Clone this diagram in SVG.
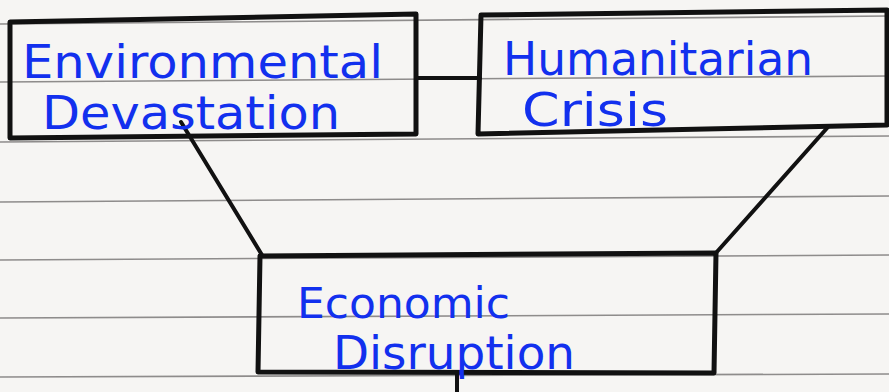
<svg xmlns="http://www.w3.org/2000/svg" width="889" height="392" viewBox="0 0 889 392">
<style>
.rule{stroke:#6b6868;stroke-width:1.6;fill:none;opacity:0.75}
.box{fill:none;stroke:#111;stroke-width:5;stroke-linejoin:round}
.conn{stroke:#111;stroke-width:4;fill:none;stroke-linecap:round}
.lbl{font-family:"DejaVu Sans","Liberation Sans",sans-serif;fill:#1230ee;font-size:46px}
</style>
<rect width="889" height="392" fill="#f6f5f3"/>
<g id="paper">
<line class="rule" x1="0" y1="24" x2="889" y2="16"/>
<line class="rule" x1="0" y1="82" x2="889" y2="76"/>
<line class="rule" x1="0" y1="142" x2="889" y2="136"/>
<line class="rule" x1="0" y1="202" x2="889" y2="196"/>
<line class="rule" x1="0" y1="260" x2="889" y2="255"/>
<line class="rule" x1="0" y1="318" x2="889" y2="314"/>
<line class="rule" x1="0" y1="377" x2="889" y2="374"/>
</g>
<g id="connectors">
<line class="conn" x1="416" y1="78" x2="480" y2="78"/>
<line class="conn" x1="181" y1="122" x2="262" y2="255"/>
<line class="conn" x1="828" y1="127" x2="715" y2="254"/>
<line class="conn" x1="457" y1="373" x2="457" y2="392"/>
</g>
<g id="env">
<path class="box" d="M10,22 L416,14 L416,134 L10,138 Z"/>
<text class="lbl" x="22" y="78" textLength="361" lengthAdjust="spacingAndGlyphs">Environmental</text>
<text class="lbl" x="42" y="129" textLength="298" lengthAdjust="spacingAndGlyphs">Devastation</text>
</g>
<g id="hum">
<path class="box" d="M481,15 L887,10 L887,125 L478,134 Z"/>
<text class="lbl" x="503" y="75" textLength="310" lengthAdjust="spacingAndGlyphs">Humanitarian</text>
<text class="lbl" x="522" y="126" textLength="146" lengthAdjust="spacingAndGlyphs">Crisis</text>
</g>
<g id="econ">
<path class="box" d="M260,256 L716,253 L714,373 L258,372 Z"/>
<text class="lbl" x="297" y="318" textLength="213" lengthAdjust="spacingAndGlyphs" style="font-size:42px">Economic</text>
<text class="lbl" x="333" y="369" textLength="242" lengthAdjust="spacingAndGlyphs">Disruption</text>
</g>
</svg>
